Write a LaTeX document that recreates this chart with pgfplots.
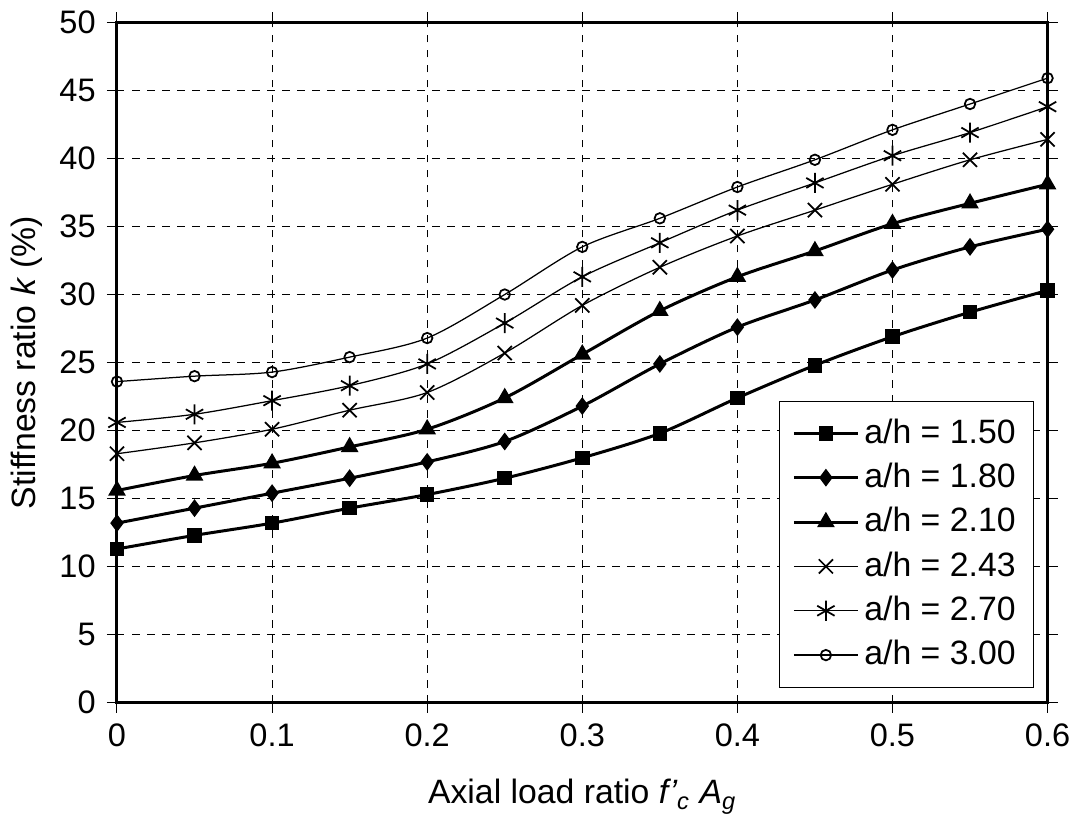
\documentclass[border=0pt]{standalone}
\usepackage{fontspec}
\setmainfont{Liberation Sans}
\usepackage{pgfplots}
\pgfplotsset{compat=1.18}

\pgfplotstableread{
x     a b c d e f
0     11.3 13.2 15.6 18.3 20.6 23.6
0.05  12.3 14.3 16.7 19.1 21.2 24.0
0.10  13.2 15.4 17.6 20.1 22.2 24.3
0.15  14.3 16.5 18.8 21.5 23.3 25.4
0.20  15.3 17.7 20.1 22.8 24.9 26.8
0.25  16.5 19.2 22.4 25.7 27.9 30.0
0.30  18.0 21.8 25.6 29.2 31.3 33.5
0.35  19.8 24.9 28.8 32.0 33.8 35.6
0.40  22.4 27.6 31.3 34.3 36.2 37.9
0.45  24.8 29.6 33.2 36.2 38.2 39.9
0.50  26.9 31.8 35.2 38.1 40.2 42.1
0.55  28.7 33.5 36.7 39.9 41.9 44.0
0.60  30.3 34.8 38.1 41.4 43.8 45.9
}\data

\begin{document}
\fontsize{13}{15}\selectfont
\begin{tikzpicture}
\begin{axis}[
  scale only axis, width=372pt, height=272pt,
  xmin=0, xmax=0.6, ymin=0, ymax=50,
  xtick={0,0.1,...,0.6}, ytick={0,5,...,50},
  /pgf/number format/assume math mode=true,
  /pgf/number format/fixed,
  tick label style={font=\fontsize{13}{15}\selectfont},
  label style={font=\fontsize{13.5}{15}\selectfont},
  tick align=outside, tick style={black, thin}, major tick length=4pt,
  axis line style={line width=1.2pt},
  grid=major, grid style={dashed, black, thin},
  xlabel={Axial load ratio \textit{f\kern0.5pt'\textsubscript{c} A\textsubscript{g}}},
  ylabel={Stiffness ratio \textit{k} (\%)},
  xlabel style={yshift=-4pt}, ylabel style={yshift=-2pt},
  legend style={at={(rel axis cs:0.985,0.022)}, anchor=south east, draw=black, thin,
    font=\fontsize{13.5}{15}\selectfont, row sep=2pt, inner xsep=5pt, inner ysep=5pt},
  legend cell align=left,
  legend image code/.code={\draw[mark repeat=2,mark phase=2] plot coordinates {(0cm,0cm)(0.45cm,0cm)(0.9cm,0cm)};},
  every axis plot/.append style={smooth, black},
]
\addplot[line width=1.2pt, mark=square*, mark size=2.3pt] table[x=x,y=a] {\data};
\addlegendentry{a/h = 1.50}
\addplot[line width=1.2pt, mark=diamond*, mark size=2.6pt] table[x=x,y=b] {\data};
\addlegendentry{a/h = 1.80}
\addplot[line width=1.2pt, mark=triangle*, mark size=2.9pt] table[x=x,y=c] {\data};
\addlegendentry{a/h = 2.10}
\addplot[line width=0.5pt, mark=x, mark size=4pt, mark options={line width=0.7pt}] table[x=x,y=d] {\data};
\addlegendentry{a/h = 2.43}
\addplot[line width=0.5pt, mark=asterisk, mark size=4pt, mark options={line width=0.7pt}] table[x=x,y=e] {\data};
\addlegendentry{a/h = 2.70}
\addplot[line width=0.5pt, mark=o, mark size=2.1pt, mark options={fill=white, line width=0.7pt}] table[x=x,y=f] {\data};
\addlegendentry{a/h = 3.00}
\end{axis}
\end{tikzpicture}
\end{document}
